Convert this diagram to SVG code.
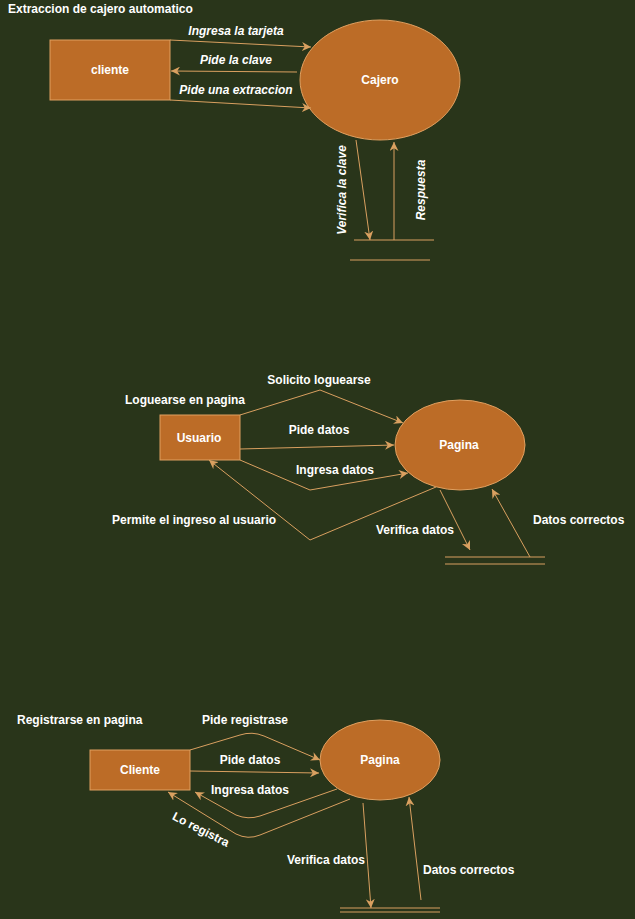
<svg xmlns="http://www.w3.org/2000/svg" width="635" height="919" viewBox="0 0 635 919">
<style>
text{font-family:"Liberation Sans",Arial,sans-serif;font-weight:bold;font-size:12px;fill:#ffffff}
.it{font-style:italic}
.mid{text-anchor:middle}
.node{fill:#bc6c27;stroke:#e0a060;stroke-width:1}
.c{fill:none;stroke:#d9a060;stroke-width:1}
</style>
<defs>
<marker id="a" viewBox="0 0 10 10" refX="10" refY="5" markerWidth="9" markerHeight="9" orient="auto" markerUnits="userSpaceOnUse">
<path d="M0,0 L10,5 L0,10 L3,5 Z" fill="#d9a060"/>
</marker>
</defs>
<rect width="635" height="919" fill="#29351a"/>

<text x="8" y="13">Extraccion de cajero automatico</text>
<g id="cliente1"><rect class="node" x="50" y="40" width="120" height="60"/><text class="mid" x="110" y="74">cliente</text></g>
<g id="cajero"><ellipse class="node" cx="380" cy="80" rx="80" ry="60"/><text class="mid" x="380" y="84">Cajero</text></g>
<g id="store1"><line class="c" x1="354" y1="240" x2="434" y2="240"/><line class="c" x1="350" y1="260" x2="430" y2="260"/></g>

<text x="125" y="404">Loguearse en pagina</text>
<g id="usuario"><rect class="node" x="160" y="415" width="80" height="45"/><text class="mid" x="199" y="442">Usuario</text></g>
<g id="pagina1"><ellipse class="node" cx="460" cy="445" rx="65" ry="45"/><text class="mid" x="459" y="449">Pagina</text></g>
<g id="store2"><line class="c" x1="445" y1="557" x2="545" y2="557"/><line class="c" x1="445" y1="564" x2="545" y2="564"/></g>

<text x="17" y="724">Registrarse en pagina</text>
<g id="cliente2"><rect class="node" x="90" y="750" width="100" height="40"/><text class="mid" x="140" y="774">Cliente</text></g>
<g id="pagina2"><ellipse class="node" cx="380" cy="760" rx="60" ry="40"/><text class="mid" x="380" y="764">Pagina</text></g>
<g id="store3"><line class="c" x1="340" y1="908" x2="440" y2="908"/><line class="c" x1="340" y1="912" x2="440" y2="912"/></g>

<g id="connectors">
<line class="c" x1="170" y1="40" x2="311" y2="47" marker-end="url(#a)"/>
<line class="c" x1="297" y1="72" x2="171" y2="71" marker-end="url(#a)"/>
<line class="c" x1="170" y1="100" x2="311" y2="108" marker-end="url(#a)"/>
<line class="c" x1="356" y1="140" x2="370" y2="240" marker-end="url(#a)"/>
<line class="c" x1="394" y1="240" x2="394" y2="142" marker-end="url(#a)"/>

<polyline class="c" points="240,415 320,390 403,423" marker-end="url(#a)"/>
<line class="c" x1="240" y1="449" x2="394" y2="445" marker-end="url(#a)"/>
<polyline class="c" points="240,460 310,490 408,473" marker-end="url(#a)"/>
<polyline class="c" points="436,487 310,540 209,460" marker-end="url(#a)"/>
<line class="c" x1="440" y1="490" x2="470" y2="550" marker-end="url(#a)"/>
<line class="c" x1="530" y1="557" x2="492" y2="489" marker-end="url(#a)"/>

<path class="c" d="M190,750 L240,735 Q252,731 264,736 L320,760" marker-end="url(#a)"/>
<line class="c" x1="190" y1="771" x2="319" y2="773" marker-end="url(#a)"/>
<path class="c" d="M337,789 L260,816 Q248,820 236,815 L195,792" marker-end="url(#a)"/>
<path class="c" d="M350,799 L260,835 Q248,840 236,834 L168,792" marker-end="url(#a)"/>
<line class="c" x1="363" y1="803" x2="371" y2="908" marker-end="url(#a)"/>
<line class="c" x1="421" y1="900" x2="409" y2="797" marker-end="url(#a)"/>

<text class="it mid" x="236" y="35">Ingresa la tarjeta</text>
<text class="it mid" x="236" y="64">Pide la clave</text>
<text class="it mid" x="236" y="94">Pide una extraccion</text>
<text class="it mid" transform="translate(346,190) rotate(-90)">Verifica la clave</text>
<text class="it mid" transform="translate(425,190) rotate(-90)">Respuesta</text>

<text class="mid" x="319" y="384">Solicito loguearse</text>
<text class="mid" x="319" y="434">Pide datos</text>
<text class="mid" x="335" y="474">Ingresa datos</text>
<text x="112" y="524">Permite el ingreso al usuario</text>
<text x="376" y="534">Verifica datos</text>
<text x="533" y="524">Datos correctos</text>

<text class="mid" x="245" y="724">Pide registrase</text>
<text class="mid" x="250" y="764">Pide datos</text>
<text class="mid" x="250" y="794">Ingresa datos</text>
<text class="mid" transform="translate(199,833) rotate(27)">Lo registra</text>
<text x="287" y="864">Verifica datos</text>
<text x="423" y="874">Datos correctos</text>
</g>
</svg>
